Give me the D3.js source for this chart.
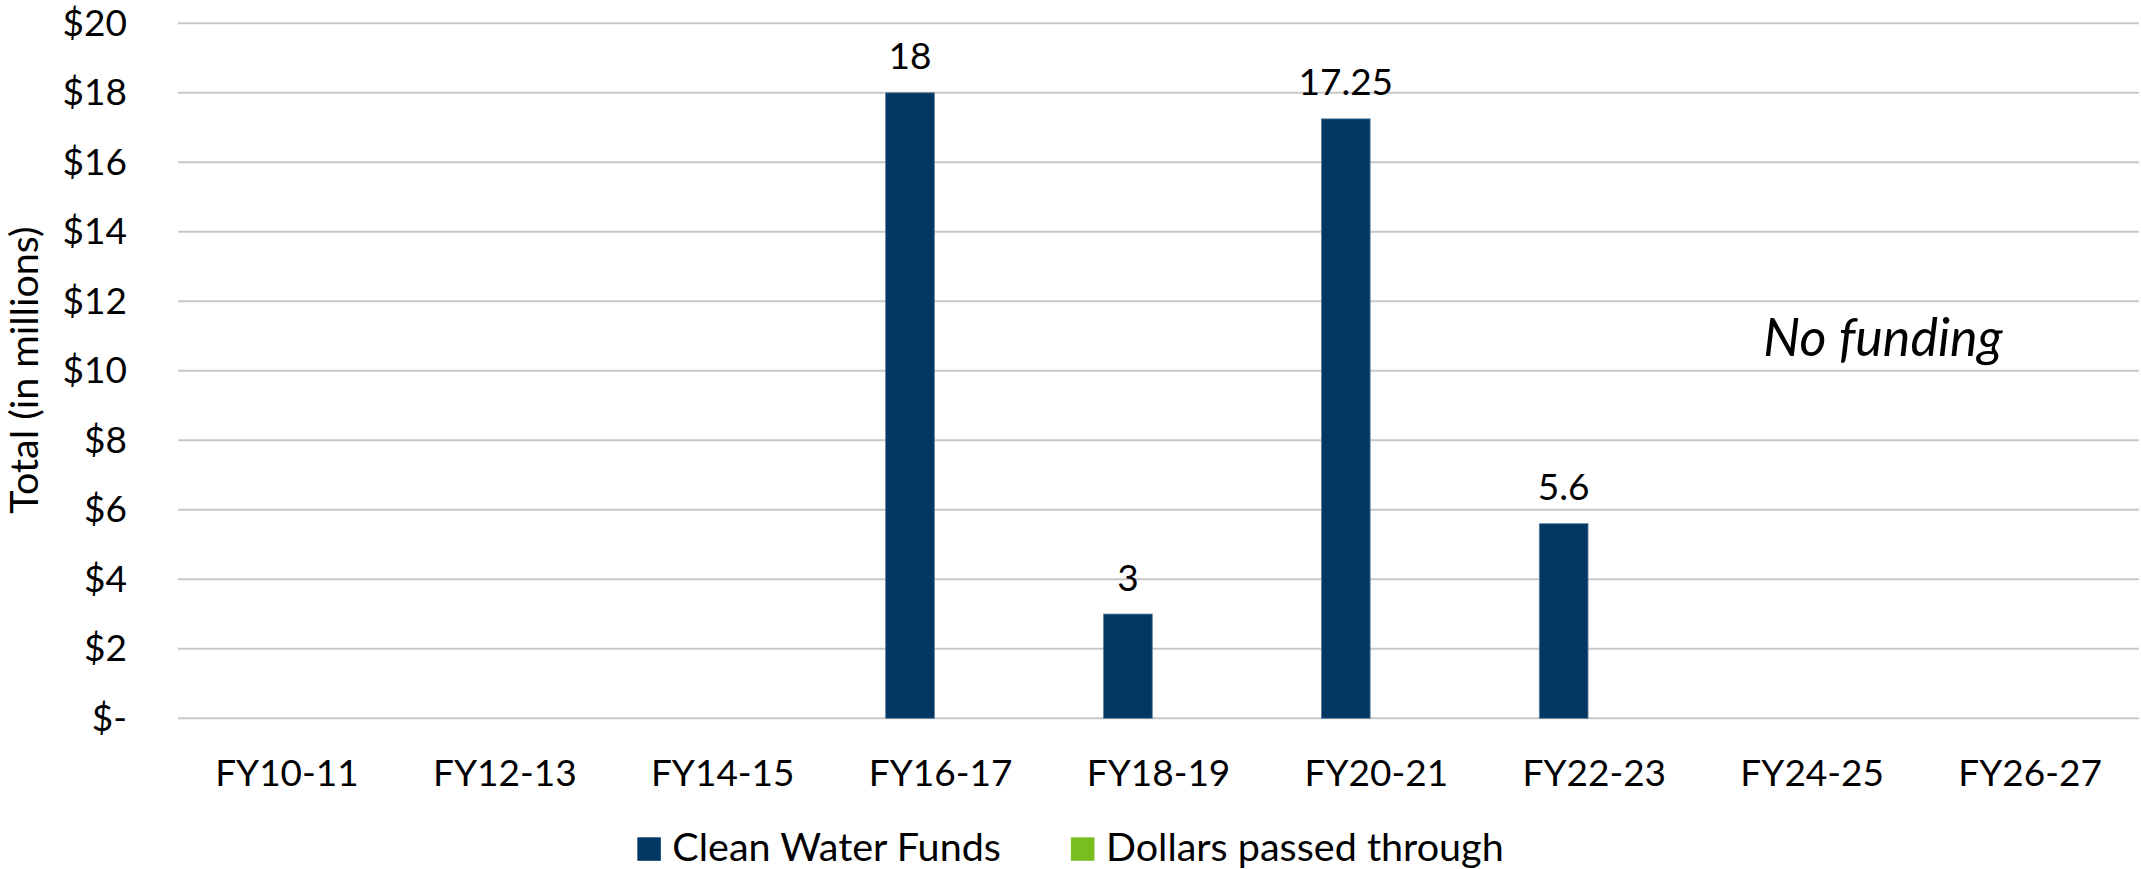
<!DOCTYPE html>
<html>
<head>
<meta charset="utf-8">
<script src="https://cdn.jsdelivr.net/npm/d3@7"></script>
<style>
  html, body { margin: 0; padding: 0; background: #ffffff; }
  svg { display: block; }
  text { font-family: Lato, "Open Sans", sans-serif; fill: #000; }
</style>
</head>
<body>
<svg id="chart" width="2141" height="869"></svg>
<script>
// Fiscal-year periods along the x axis
const categories = ["FY10-11", "FY12-13", "FY14-15", "FY16-17", "FY18-19", "FY20-21", "FY22-23", "FY24-25", "FY26-27"];
// Totals in millions of dollars
const cleanWaterFunds = [0, 0, 0, 18, 3, 17.25, 5.6, 0, 0];
const dollarsPassedThrough = [0, 0, 0, 0, 0, 0, 0, 0, 0];
const seriesNames = ["Clean Water Funds", "Dollars passed through"];
const seriesColors = ["#003763", "#78BE20"];
// Value-axis ticks
const yTicks = [0, 2, 4, 6, 8, 10, 12, 14, 16, 18, 20];
const dataLabels = ["", "", "", "18", "3", "17.25", "5.6", "", ""];

const W = 2141, H = 869;
const margin = { left: 178, right: 2, top: 23.3, bottom: 150.7 };
const plotRight = W - margin.right;
const plotBottom = H - margin.bottom;

const svg = d3.select("#chart");

const x = d3.scaleBand().domain(categories).range([margin.left, plotRight]).paddingInner(0).paddingOuter(0);
const xSub = d3.scaleBand().domain(seriesNames).range([0, x.bandwidth()])
  .paddingInner(0.204).paddingOuter(0.882);
const y = d3.scaleLinear().domain([0, 20]).range([plotBottom, margin.top]);

// Horizontal gridlines
svg.append("g")
  .selectAll("line")
  .data(yTicks)
  .join("line")
  .attr("x1", margin.left)
  .attr("x2", plotRight)
  .attr("y1", d => y(d))
  .attr("y2", d => y(d))
  .attr("stroke", "#c8c8c8")
  .attr("stroke-width", 2);

// Y axis labels
const yAxis = d3.axisLeft(y)
  .tickValues(yTicks)
  .tickSize(0)
  .tickPadding(51)
  .tickFormat(d => d === 0 ? "$-" : "$" + d);
const yg = svg.append("g").attr("transform", `translate(${margin.left},0)`).call(yAxis);
yg.select(".domain").remove();
yg.selectAll("text").attr("font-size", 37).attr("font-family", "Lato").attr("fill", "#000");

// X axis labels
const xAxis = d3.axisBottom(x).tickSize(0).tickPadding(41.5);
const xg = svg.append("g").attr("transform", `translate(0,${plotBottom})`).call(xAxis);
xg.select(".domain").remove();
xg.selectAll("text").attr("font-size", 37).attr("font-family", "Lato").attr("fill", "#000");

// Bars
const seriesData = [cleanWaterFunds, dollarsPassedThrough];
seriesNames.forEach((name, si) => {
  svg.append("g")
    .selectAll("rect")
    .data(categories.map((c, i) => ({ c, v: seriesData[si][i] })).filter(d => d.v > 0))
    .join("rect")
    .attr("x", d => x(d.c) + xSub(name))
    .attr("width", xSub.bandwidth())
    .attr("y", d => y(d.v))
    .attr("height", d => y(0) - y(d.v))
    .attr("fill", seriesColors[si])
    .attr("stroke", "#5a7d9e")
    .attr("stroke-width", 0.8);
});

// Value labels above the Clean Water Funds bars
svg.append("g")
  .selectAll("text")
  .data(categories.map((c, i) => ({ c, v: cleanWaterFunds[i], t: dataLabels[i] })).filter(d => d.t !== ""))
  .join("text")
  .attr("x", d => x(d.c) + xSub(seriesNames[0]) + xSub.bandwidth() / 2)
  .attr("y", d => y(d.v) - 23.5)
  .attr("text-anchor", "middle")
  .attr("font-size", 37)
  .text(d => d.t);

// Y axis title
svg.append("text")
  .attr("transform", `translate(38,370) rotate(-90)`)
  .attr("text-anchor", "middle")
  .attr("font-size", 39.5)
  .text("Total (in millions)");

// Annotation for the unfunded years
svg.append("text")
  .attr("x", 1883)
  .attr("y", 356)
  .attr("text-anchor", "middle")
  .attr("font-size", 52)
  .attr("font-style", "italic")
  .text("No funding");

// Legend, centred across the full width
const legend = svg.append("g");
const sq = 23.5, gapText = 11.5, gapItem = 70;
const items = legend.selectAll("g").data(seriesNames).join("g");
items.append("rect")
  .attr("width", sq).attr("height", sq)
  .attr("y", 837.3)
  .attr("fill", (d, i) => seriesColors[i]);
items.append("text")
  .attr("font-size", 39.5)
  .attr("y", 861)
  .text(d => d);
let cursor = 0;
const widths = [];
items.each(function () {
  const tw = d3.select(this).select("text").node().getComputedTextLength();
  widths.push(tw);
});
const total = widths.reduce((a, w) => a + sq + gapText + w, 0) + gapItem * (widths.length - 1);
cursor = W / 2 - total / 2;
items.each(function (d, i) {
  const g = d3.select(this);
  g.select("rect").attr("x", cursor);
  g.select("text").attr("x", cursor + sq + gapText);
  cursor += sq + gapText + widths[i] + gapItem;
});
</script>
</body>
</html>
